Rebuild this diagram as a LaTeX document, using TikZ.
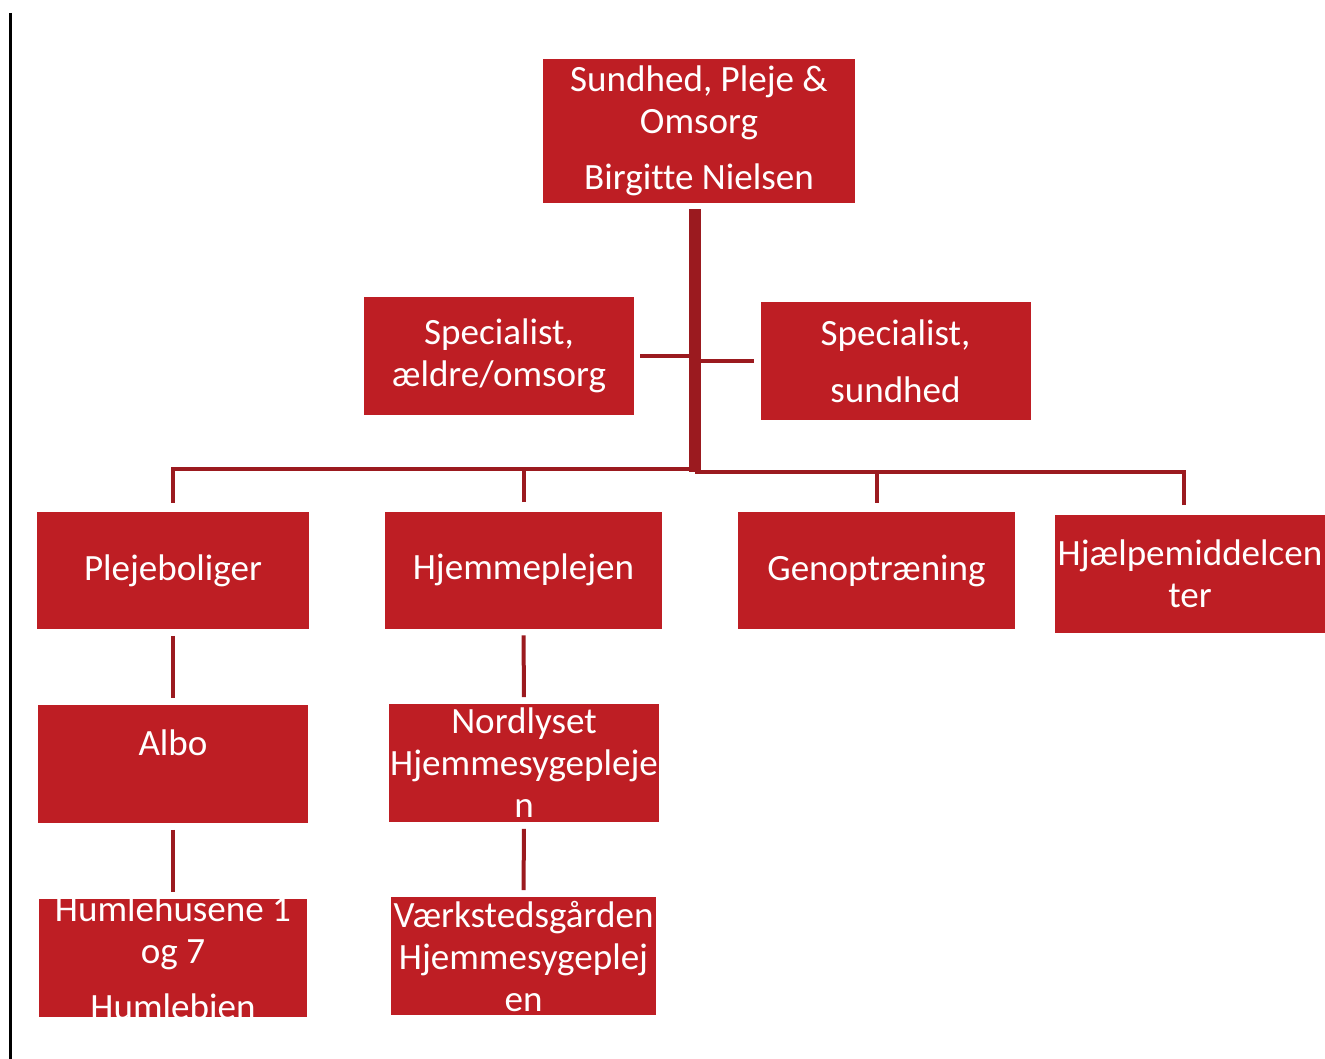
\documentclass[tikz,border=0pt]{standalone}
\usepackage{fontspec}
\setmainfont[Ligatures=NoCommon]{Carlito}
\usetikzlibrary{positioning,calc}
\definecolor{boxred}{RGB}{190,30,36}
\definecolor{linkred}{RGB}{155,26,31}
\tikzset{
    unit/.style={rectangle,fill=boxred,inner sep=0pt,minimum width=202.5pt,minimum height=88.5pt},
    wide/.style={minimum width=207.75pt,minimum height=87.75pt},
    boxtext/.style={path picture={\node[text=white,align=center,font=\fontsize{27.8}{31.5}\selectfont]
        at (path picture bounding box.center) {#1};}},
    link/.style={draw=linkred,line width=3pt},
    trunk/.style={draw=linkred,line width=9.5pt}
}
\begin{document}
\begin{tikzpicture}[x=0.75pt,y=-0.75pt]
        \useasboundingbox (0,0) rectangle (1325,1059);
        % left rule
        \draw[line width=2.25pt] (10,13) -- (10,1059);

        % top
        \node[unit,minimum width=234pt,minimum height=108pt,
            boxtext={Sundhed, Pleje \&\\Omsorg\\[10.5pt]Birgitte Nielsen}] (top) at (699,131) {};

        % staff
        \node[unit,boxtext={Specialist,\\ældre/omsorg}] (spec1) at (499,356) {};
        \node[unit,boxtext={Specialist,\\[11pt]sundhed}] (spec2) at (895.5,361) {};

        % departments
        \node[unit,wide,minimum width=204pt,boxtext={Plejeboliger}] (pleje) at (173,570.5) {};
        \node[unit,wide,boxtext={Hjemmeplejen}] (hjem) at (523.5,570) {};
        \node[unit,wide,boxtext={Genoptræning}] (geno) at (876.5,570.5) {};
        \node[unit,boxtext={Hjælpemiddelcen\\ter}] (hjael) at (1190,573.5) {};

        % units
        \node[unit,boxtext={Albo\\~}] (albo) at (173,764) {};
        \node[unit,boxtext={Nordlyset\\Hjemmesygepleje\\n}] (nord) at (524,763) {};
        \node[unit,minimum width=201pt,boxtext={Humlehusene 1\\og 7\\[10.5pt]Humlebien}] (humle) at (173,958) {};
        \node[unit,minimum width=198.75pt,boxtext={Værkstedsgården\\Hjemmesygeplej\\en}] (vaerk) at (523.5,956) {};

        % connectors
        \coordinate (hub) at (695,469);
        \coordinate (hubr) at (695,472);
        \draw[link,shorten <=4.5pt] (spec1.east) -- (spec1.east -| hub);
        \draw[link,shorten >=4.5pt] (spec2.west -| hub) -- (spec2.west);
        \draw[link,shorten <=6.75pt] (pleje.north) |- (hub);
        \draw[link,shorten <=6.75pt] (hjem.north) -- (hjem.north |- hub);
        \draw[link,shorten <=6.75pt] ([xshift=-4.5pt]hjael.north) |- (hubr);
        \draw[link,shorten <=6.75pt] (geno.north) -- (geno.north |- hubr);
        \draw[trunk,shorten <=4.5pt] (top.south -| hub) -- (hubr);

        \draw[link,shorten <=5pt,shorten >=5pt] (pleje.south) -- (albo.north);
        \draw[link,shorten <=5pt,shorten >=5pt] (albo.south) -- (humle.north);
        \draw[link,shorten <=5pt,shorten >=5pt] (hjem.south) -- (nord.north);
        \draw[link,shorten <=5pt,shorten >=5pt] (nord.south) -- (vaerk.north);
\end{tikzpicture}
\end{document}
